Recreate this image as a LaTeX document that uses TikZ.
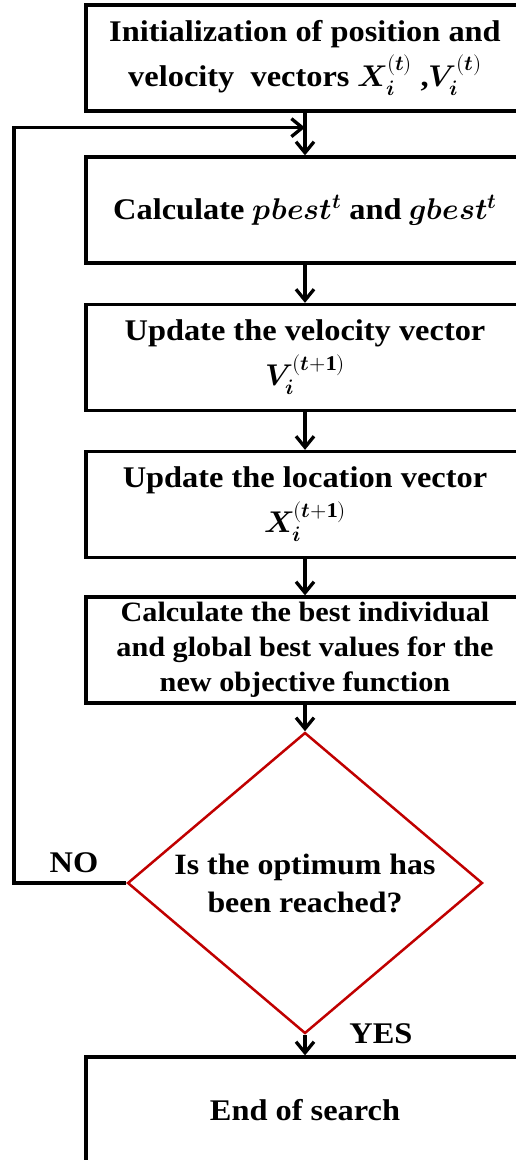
\documentclass[tikz,border=0pt]{standalone}
\usepackage{fontspec}
\setmainfont[FakeStretch=1.08]{Liberation Serif}
\usepackage{unicode-math}
\setmathfont{Latin Modern Math}
\usetikzlibrary{shapes.geometric,arrows.meta,positioning}

\definecolor{darkred}{RGB}{192,0,0}
\newcommand{\vb}[1]{\symbfit{#1}}

\tikzset{
  process/.style={draw, line width=3.3pt, minimum width=438pt, minimum height=106pt,
    inner sep=0pt, align=center, font=\fontsize{30}{45}\selectfont\bfseries},
  decision/.style={diamond, draw=darkred, line width=2.5pt, aspect=1.18,
    minimum width=355pt, minimum height=301pt, inner sep=0pt, align=center,
    font=\fontsize{29.5}{38}\selectfont\bfseries},
  flow/.style={line width=3.3pt, -{Straight Barb[length=11pt,width=18pt]}},
  tag/.style={font=\fontsize{30}{30}\selectfont\bfseries, inner sep=0pt}
}

\begin{document}
\begin{tikzpicture}[x=1pt,y=-1pt]
  \useasboundingbox (0,0) rectangle (516,1160);
  \clip (0,0) rectangle (516,1160);
  % boxes of the loop
  \node[process] (init) at (305,58) {Initialization of position and\\
    velocity\ \ vectors $\vb{X}_{\vb{i}}^{(\vb{t})}$\ ,$\vb{V}_{\vb{i}}^{(\vb{t})}$};
  \node[process] (best) at (305,210) {Calculate $\vb{pbest}^{\vb{t}}$ and $\vb{gbest}^{\vb{t}}$};
  \node[process] (vel) at (305,357.5) {Update the velocity vector\\
    $\vb{V}_{\vb{i}}^{(\vb{t}+\mathbf{1})}$};
  \node[process] (loc) at (305,504.5) {Update the location vector\\
    $\vb{X}_{\vb{i}}^{(\vb{t}+\mathbf{1})}$};
  \node[process, font=\fontsize{28}{35}\selectfont\bfseries] (eval) at (305,650)
    {Calculate the best individual\\ and global best values for the\\ new objective function};
  \node[decision] (check) at (305,883) {Is the optimum has\\ been reached?};
  \node[process] (stop) at (305,1110) {End of search};
  % arrows
  \coordinate[below=15pt of init] (merge);
  \coordinate (back) at (14,883);
  \draw[flow] (init) -- (best);
  \draw[flow] (best) -- (vel);
  \draw[flow] (vel) -- (loc);
  \draw[flow] (loc) -- (eval);
  \draw[flow] (eval) -- (check);
  \draw[flow] (check) -- (stop);
  \draw[flow] (check.west) -- (back) |- (merge);
  % answers
  \node[tag, anchor=base] (no) at (74,872) {NO};
  \node[tag, anchor=base] (yes) at (381,1043) {YES};
\end{tikzpicture}
\end{document}
